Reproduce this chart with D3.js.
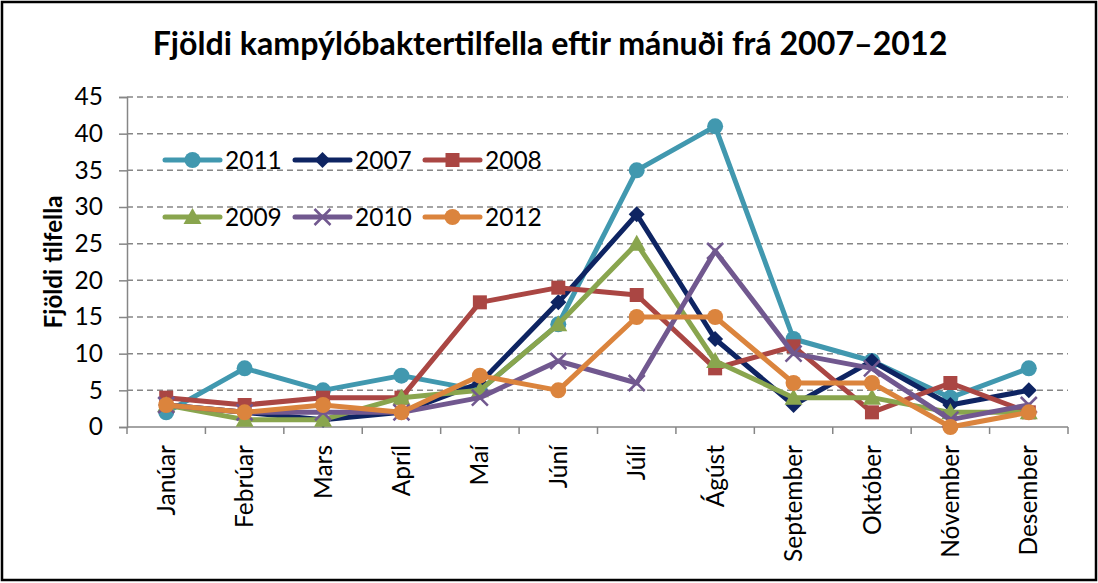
<!DOCTYPE html>
<html>
<head>
<meta charset="utf-8">
<script src="https://cdn.jsdelivr.net/npm/d3@7"></script>
<style>
  body { margin: 0; background: #fff; }
  svg { display: block; }
</style>
</head>
<body>
<svg id="chart" width="1098" height="583"></svg>
<script>
// gögn lesin af myndinni
const months = ["Janúar", "Febrúar", "Mars", "Apríl", "Maí", "Júní", "Júlí", "Ágúst", "September", "Október", "Nóvember", "Desember"]
const years = ["2011", "2007", "2008", "2009", "2010", "2012"]
const v2011 = [2, 8, 5, 7, 5, 14, 35, 41, 12, 9, 4, 8]
const v2007 = [3, 2, 1, 2, 6, 17, 29, 12, 3, 9, 3, 5]
const v2008 = [4, 3, 4, 4, 17, 19, 18, 8, 11, 2, 6, 2]
const v2009 = [3, 1, 1, 4, 5, 14, 25, 9, 4, 4, 2, 2]
const v2010 = [3, 2, 2, 2, 4, 9, 6, 24, 10, 8, 1, 3]
const v2012 = [3, 2, 3, 2, 7, 5, 15, 15, 6, 6, 0, 2]
const yTicks = [0, 5, 10, 15, 20, 25, 30, 35, 40, 45]

const values = [v2011, v2007, v2008, v2009, v2010, v2012]
const colors = ["#4198AF", "#0E2462", "#AA4643", "#89A54E", "#71588F", "#DB843D"]
const shapes = ["circle", "diamond", "square", "triangle", "cross", "circle"]

const svg = d3.select("#chart")
const font = "Lato, 'Open Sans', sans-serif"

const plotLeft = 127, plotRight = 1068, plotTop = 97, plotBottom = 427

const x = d3.scalePoint().domain(months).range([plotLeft, plotRight]).padding(0.5)
const y = d3.scaleLinear().domain([0, 45]).range([plotBottom, plotTop])

// mæla leturstærð svo textinn passi við breidd
function fitSize(str, width, weight) {
	let t = svg.append("text").attr("font-family", font).attr("font-weight", weight || "normal")
		.attr("font-size", 100).text(str)
	let w = t.node().getComputedTextLength()
	t.remove()
	return 100 * width / w
}
const baseSize = fitSize("September", 117)
const titleSize = fitSize("Fjöldi kampýlóbaktertilfella eftir mánuði frá 2007–2012", 795, "bold")
const yLabelSize = fitSize("Fjöldi tilfella", 133, "bold")

// rammi
svg.append("rect")
	.attr("x", 2).attr("y", 2).attr("width", 1094).attr("height", 578)
	.attr("fill", "#fff").attr("stroke", "#000").attr("stroke-width", 2.5)

svg.append("text")
	.attr("x", 550).attr("y", 55)
	.attr("text-anchor", "middle")
	.attr("font-family", font).attr("font-weight", "bold").attr("font-size", titleSize)
	.text("Fjöldi kampýlóbaktertilfella eftir mánuði frá 2007–2012")

// gridlínur
svg.append("g")
	.selectAll("line")
	.data(yTicks.filter(d => d > 0))
	.join("line")
	.attr("x1", plotLeft).attr("x2", plotRight)
	.attr("y1", d => y(d)).attr("y2", d => y(d))
	.attr("stroke", "#868686").attr("stroke-width", 1.5)
	.attr("stroke-dasharray", "6,4")

// y-ás
const yAxis = svg.append("g")
	.attr("transform", `translate(${plotLeft},0)`)
	.call(d3.axisLeft(y).tickValues(yTicks).tickSize(8).tickPadding(16))
yAxis.select(".domain").attr("stroke", "#868686").attr("stroke-width", 1.5)
yAxis.selectAll(".tick line").attr("stroke", "#868686").attr("stroke-width", 1.5)
yAxis.selectAll("text").attr("font-family", font).attr("font-size", baseSize).attr("fill", "#000")

// x-ás
const bandEdges = d3.range(months.length + 1).map(i => plotLeft + i * x.step())
svg.append("line")
	.attr("x1", plotLeft).attr("x2", plotRight).attr("y1", plotBottom).attr("y2", plotBottom)
	.attr("stroke", "#868686").attr("stroke-width", 1.5)
svg.append("g")
	.selectAll("line")
	.data(bandEdges)
	.join("line")
	.attr("x1", d => d).attr("x2", d => d)
	.attr("y1", plotBottom).attr("y2", plotBottom + 7)
	.attr("stroke", "#868686").attr("stroke-width", 1.5)
svg.append("g")
	.selectAll("text")
	.data(months)
	.join("text")
	.attr("transform", d => `translate(${x(d)},445) rotate(-90)`)
	.attr("text-anchor", "end")
	.attr("dy", "0.35em")
	.attr("font-family", font).attr("font-size", baseSize)
	.text(d => d)

svg.append("text")
	.attr("transform", "translate(53,262) rotate(-90)")
	.attr("text-anchor", "middle")
	.attr("dy", "0.35em")
	.attr("font-family", font).attr("font-weight", "bold").attr("font-size", yLabelSize)
	.text("Fjöldi tilfella")

function drawMarker(g, shape, color, cx, cy) {
	if (shape == "circle") {
		g.append("circle").attr("cx", cx).attr("cy", cy).attr("r", 8).attr("fill", color)
	} else if (shape == "diamond") {
		g.append("path").attr("d", `M${cx},${cy - 8}L${cx + 8},${cy}L${cx},${cy + 8}L${cx - 8},${cy}Z`).attr("fill", color)
	} else if (shape == "square") {
		g.append("rect").attr("x", cx - 7).attr("y", cy - 7).attr("width", 14).attr("height", 14).attr("fill", color)
	} else if (shape == "triangle") {
		g.append("path").attr("d", `M${cx},${cy - 9}L${cx + 9},${cy + 7}L${cx - 9},${cy + 7}Z`).attr("fill", color)
	} else if (shape == "cross") {
		g.append("path").attr("d", `M${cx - 8},${cy - 8}L${cx + 8},${cy + 8}M${cx + 8},${cy - 8}L${cx - 8},${cy + 8}`)
			.attr("stroke", color).attr("stroke-width", 2.5)
	}
}

const line = d3.line().x((d, i) => x(months[i])).y(d => y(d))

years.forEach((yr, k) => {
	let g = svg.append("g")
	g.append("path")
		.attr("d", line(values[k]))
		.attr("fill", "none").attr("stroke", colors[k]).attr("stroke-width", 5)
		.attr("stroke-linejoin", "round").attr("stroke-linecap", "round")
	values[k].forEach((v, i) => drawMarker(g, shapes[k], colors[k], x(months[i]), y(v)))
})

// skýringar
const legendX = [165, 295, 425], legendY = [160, 217]
years.forEach((yr, k) => {
	let lx = legendX[k % 3], ly = legendY[Math.floor(k / 3)]
	let g = svg.append("g")
	g.append("line")
		.attr("x1", lx).attr("x2", lx + 55).attr("y1", ly).attr("y2", ly)
		.attr("stroke", colors[k]).attr("stroke-width", 5).attr("stroke-linecap", "round")
	drawMarker(g, shapes[k], colors[k], lx + 27.5, ly)
	g.append("text")
		.attr("x", lx + 60).attr("y", ly)
		.attr("dy", "0.35em")
		.attr("font-family", font).attr("font-size", baseSize)
		.text(yr)
})
</script>
</body>
</html>
